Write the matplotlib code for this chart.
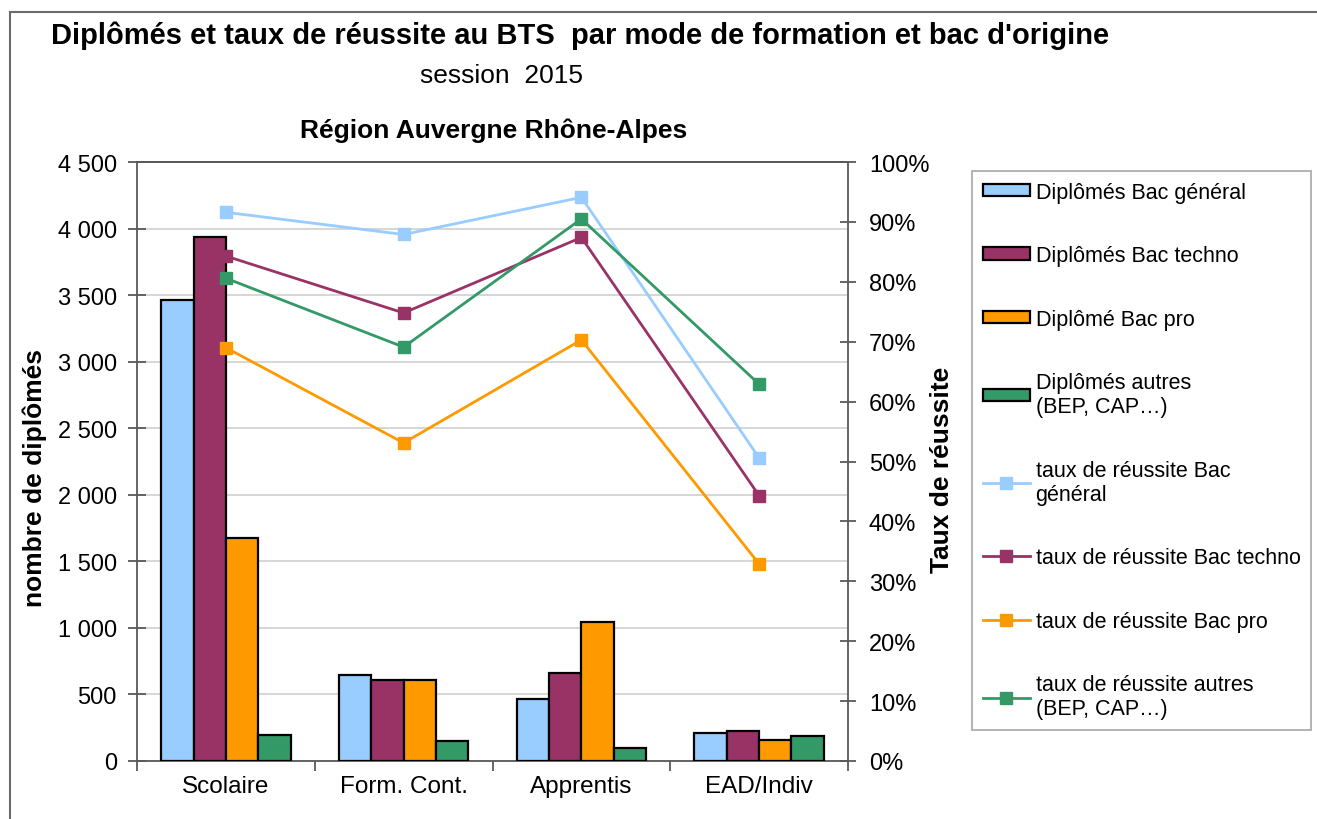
import matplotlib.pyplot as plt
import matplotlib.ticker as mticker
from matplotlib.lines import Line2D
import numpy as np

plt.rcParams['font.family'] = ['Liberation Sans', 'DejaVu Sans']

# Données
modes = ["Scolaire", "Form. Cont.", "Apprentis", "EAD/Indiv"]

dipl_general = [3460, 648, 463, 209]
dipl_techno = [3935, 605, 663, 227]
dipl_pro = [1673, 611, 1047, 157]
dipl_autres = [196, 153, 101, 190]

taux_general = [0.916, 0.879, 0.941, 0.506]
taux_techno = [0.843, 0.748, 0.874, 0.443]
taux_pro = [0.690, 0.531, 0.703, 0.329]
taux_autres = [0.806, 0.691, 0.905, 0.629]

bar_labels = ["Diplômés Bac général", "Diplômés Bac techno", "Diplômé Bac pro",
              "Diplômés autres\n(BEP, CAP…)"]
line_labels = ["taux de réussite Bac\ngénéral", "taux de réussite Bac techno",
               "taux de réussite Bac pro", "taux de réussite autres\n(BEP, CAP…)"]
colors = ["#99CCFF", "#993366", "#FF9900", "#339966"]

W, H = 1317, 820
fig = plt.figure(figsize=(W / 100, H / 100), dpi=100)

ax = fig.add_axes([137 / W, 1 - 762 / H, (848 - 137) / W, (762 - 163) / H])
ax2 = ax.twinx()

x = np.arange(len(modes))
width = 0.182
bars = []
for i, vals in enumerate([dipl_general, dipl_techno, dipl_pro, dipl_autres]):
    b = ax.bar(x + (i - 1.5) * width, vals, width, color=colors[i],
               edgecolor="black", linewidth=1.6, label=bar_labels[i], zorder=3)
    bars.append(b)

lines = []
for i, vals in enumerate([taux_general, taux_techno, taux_pro, taux_autres]):
    ln, = ax2.plot(x, vals, color=colors[i], lw=2, marker="s", markersize=9,
                   label=line_labels[i])
    lines.append(ln)

axis_col = "#595959"
ax.set_xlim(-0.5, 3.5)
ax.set_ylim(0, 4500)
ax.set_yticks(np.arange(0, 4501, 500))
ax.yaxis.set_major_formatter(mticker.FuncFormatter(lambda v, p: f"{int(v):,}".replace(",", " ")))
ax.grid(axis="y", color="#D0D0D0", lw=1.2, zorder=0)
ax.set_axisbelow(True)

ax.set_xticks(x)
ax.set_xticklabels(modes)
ax.set_xticks(np.arange(-0.5, 4, 1), minor=True)
ax.tick_params(axis="x", which="major", length=0, pad=10, labelsize=17.5)
ax.tick_params(axis="x", which="minor", length=7, width=1.3, color=axis_col, direction="out")
ax.tick_params(axis="y", direction="inout", length=13, width=1.3, color=axis_col, pad=8, labelsize=17)

ax2.set_ylim(0, 1)
ax2.set_yticks(np.arange(0, 1.01, 0.1))
ax2.yaxis.set_major_formatter(mticker.FuncFormatter(lambda v, p: f"{int(round(v * 100))}%"))
ax2.tick_params(axis="y", direction="inout", length=12, width=1.3, color=axis_col, pad=9, labelsize=17)

for a in (ax, ax2):
    for s in a.spines.values():
        s.set_color(axis_col)
        s.set_linewidth(1.3)
ax.spines["right"].set_visible(False)
ax2.spines["left"].set_visible(False)
ax2.spines["bottom"].set_visible(False)

# Titres
fig.text(580 / W, 1 - 36 / H, "Diplômés et taux de réussite au BTS  par mode de formation et bac d'origine",
         ha="center", va="center", fontsize=21, fontweight="bold")
fig.text(502 / W, 1 - 76 / H, "session  2015", ha="center", va="center", fontsize=19)
fig.text(494 / W, 1 - 131 / H, "Région Auvergne Rhône-Alpes", ha="center", va="center",
         fontsize=19, fontweight="bold")
fig.text(35 / W, 1 - 478 / H, "nombre de diplômés", rotation=90, ha="center", va="center",
         fontsize=19, fontweight="bold")
fig.text(942 / W, 1 - 470 / H, "Taux de réussite", rotation=90, ha="center", va="center",
         fontsize=19, fontweight="bold")

# Cadre extérieur
fig.add_artist(Line2D([10 / W, 10 / W], [0, 1 - 13 / H], transform=fig.transFigure,
                      color="#6b6b6b", lw=1.5))
fig.add_artist(Line2D([10 / W, 1], [1 - 13 / H, 1 - 13 / H], transform=fig.transFigure,
                      color="#6b6b6b", lw=1.5))

leg = fig.legend(bars + lines, bar_labels + line_labels, loc="upper left",
                 bbox_to_anchor=(972 / W, 1 - 172 / H), fontsize=15.5,
                 frameon=True, fancybox=False, edgecolor="#999999",
                 labelspacing=1.97, handlelength=2.2, handleheight=0.5,
                 handletextpad=0.25, borderpad=0.5, borderaxespad=0)
leg.get_frame().set_linewidth(1.3)

fig.savefig("out.png", dpi=100)
